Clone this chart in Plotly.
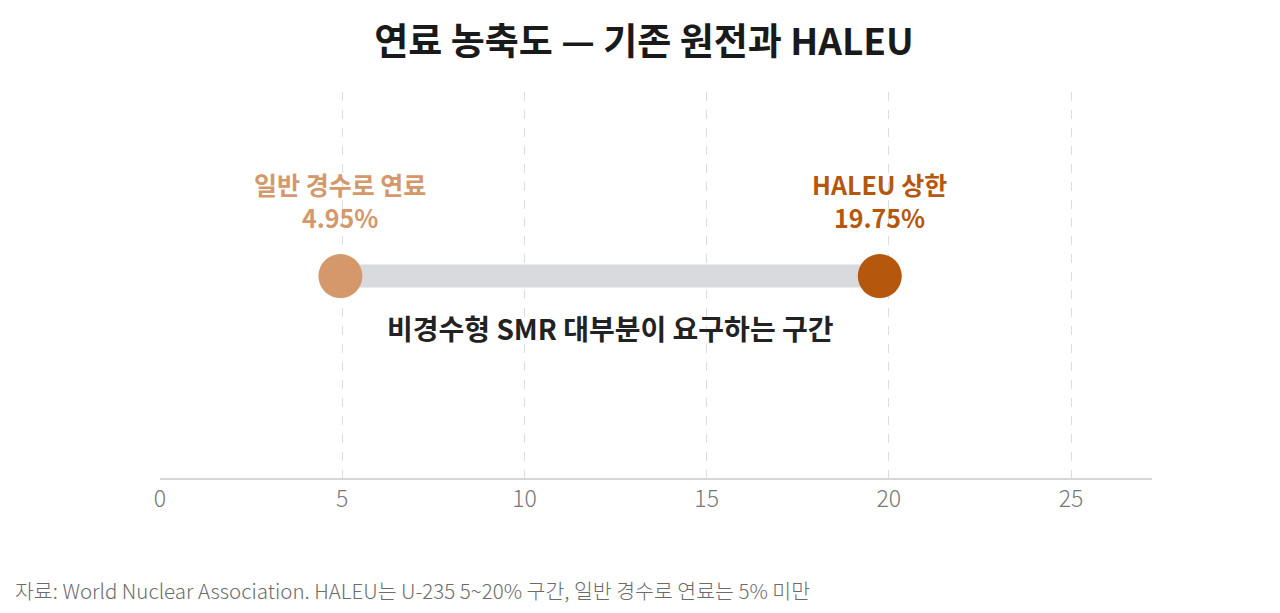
import plotly.graph_objects as go

# 농축도 데이터 (%)
labels = ["일반 경수로 연료", "HALEU 상한"]
values = [4.95, 19.75]
colors = ["#D4986B", "#B5570D"]
range_label = "비경수형 SMR 대부분이 요구하는 구간"
source = "자료: World Nuclear Association. HALEU는 U-235 5~20% 구간, 일반 경수로 연료는 5% 미만"
x_ticks = [0, 5, 10, 15, 20, 25]

FONT = "Noto Sans CJK KR"
ROW_Y = 0.523

fig = go.Figure()

# 구간 막대
fig.add_trace(go.Scatter(
    x=values, y=[ROW_Y, ROW_Y], mode="lines",
    line=dict(color="#D9DADD", width=23),
    hoverinfo="skip", showlegend=False,
))

# 양 끝 점
fig.add_trace(go.Scatter(
    x=values, y=[ROW_Y, ROW_Y], mode="markers",
    marker=dict(color=colors, size=44, line=dict(width=0)),
    showlegend=False,
))

# 점 위 라벨
for lab, val, col in zip(labels, values, colors):
    fig.add_annotation(
        x=val, y=ROW_Y, text=f"<b>{lab}<br>{val:.2f}%</b>",
        showarrow=False, yshift=76, align="center",
        font=dict(family=FONT, size=25, color=col),
    )

fig.add_annotation(
    x=sum(values) / 2, y=ROW_Y, text=f"<b>{range_label}</b>",
    showarrow=False, yshift=-52, font=dict(family=FONT, size=28, color="#222222"),
)

fig.add_annotation(
    xref="paper", yref="paper", x=-0.148, y=-0.29, xanchor="left", yanchor="middle",
    text=source, showarrow=False,
    font=dict(family=FONT, size=20.5, color="#6B6B6B", weight=300),
)

fig.update_layout(
    width=1272, height=605,
    paper_bgcolor="white", plot_bgcolor="white",
    margin=dict(l=152, r=128, t=84, b=135),
    title=dict(
        text="<b>연료 농축도 — 기존 원전과 HALEU</b>",
        x=0.5, xanchor="center", y=0.944, yanchor="middle",
        font=dict(family=FONT, size=37, color="#1A1A1A"),
    ),
    xaxis=dict(
        range=[0, 27.22], tickvals=x_ticks, showgrid=True,
        gridcolor="#DDDDDD", griddash="dash", gridwidth=1,
        zeroline=False, showline=True, linecolor="#D6D6D6", linewidth=1.5,
        ticks="", tickfont=dict(family=FONT, size=23, color="#777777", weight=300),
    ),
    yaxis=dict(range=[0, 1], visible=False, showgrid=False, zeroline=False),
)

fig.write_html("out.html")
